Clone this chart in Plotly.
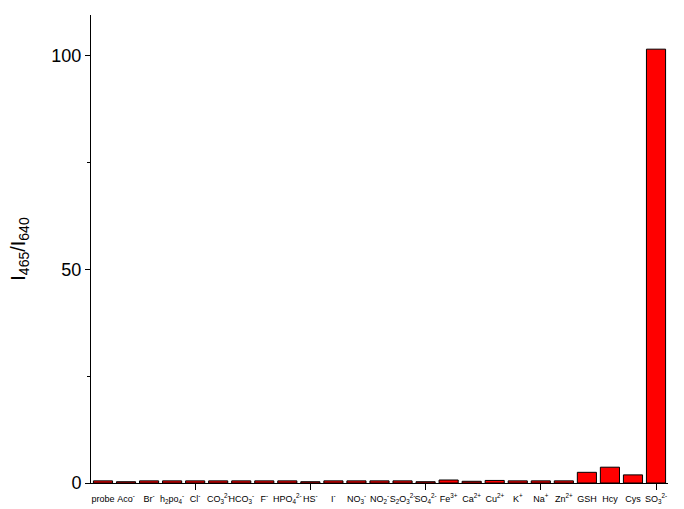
import plotly.graph_objects as go

labels = ["probe", "Aco<sup>-</sup>", "Br<sup>-</sup>", "h<sub>2</sub>po<sub>4</sub><sup>-</sup>",
          "Cl<sup>-</sup>", "CO<sub>3</sub><sup>2-</sup>", "HCO<sub>3</sub><sup>-</sup>", "F<sup>-</sup>",
          "HPO<sub>4</sub><sup>2-</sup>", "HS<sup>-</sup>", "I<sup>-</sup>", "NO<sub>3</sub><sup>-</sup>",
          "NO<sub>2</sub><sup>-</sup>", "S<sub>2</sub>O<sub>3</sub><sup>2-</sup>", "SO<sub>4</sub><sup>2-</sup>",
          "Fe<sup>3+</sup>", "Ca<sup>2+</sup>", "Cu<sup>2+</sup>", "K<sup>+</sup>", "Na<sup>+</sup>",
          "Zn<sup>2+</sup>", "GSH", "Hcy", "Cys", "SO<sub>3</sub><sup>2-</sup>"]
values = [0.5, 0.3, 0.5, 0.5, 0.5, 0.5, 0.5, 0.5, 0.5, 0.3, 0.5, 0.5, 0.5, 0.5, 0.3,
          0.7, 0.4, 0.6, 0.5, 0.5, 0.5, 2.5, 3.7, 1.9, 101.6]
xpos = list(range(len(labels)))
major_x = [4, 9, 14, 19, 24]

fig = go.Figure()
fig.add_trace(go.Bar(x=xpos, y=values, width=0.83,
                     marker=dict(color="#FF0000", line=dict(color="black", width=1)),
                     showlegend=False))
fig.add_trace(go.Scatter(x=[0], y=[0], xaxis="x2", mode="markers",
                         marker=dict(opacity=0), showlegend=False, hoverinfo="skip"))

font = "Arial, Liberation Sans, sans-serif"
fig.update_layout(
    width=684, height=509,
    margin=dict(l=91, r=16, t=15, b=26),
    paper_bgcolor="white", plot_bgcolor="white",
    font=dict(family=font, color="black"),
    xaxis=dict(range=[-0.52, 24.52], tickvals=xpos, ticktext=labels, ticks="",
               showline=True, linecolor="black", linewidth=1, showgrid=False, zeroline=False,
               tickfont=dict(size=9, family=font, color="black"), tickangle=0,
               ticklabelstandoff=7, automargin=False),
    xaxis2=dict(range=[-0.52, 24.52], overlaying="x", side="bottom", tickvals=major_x,
                showticklabels=False, ticks="outside", ticklen=6, tickcolor="black",
                showline=False, showgrid=False, zeroline=False, automargin=False),
    yaxis=dict(range=[0, 109.6], tickvals=[0, 50, 100], ticks="outside", ticklen=5,
               tickcolor="black", showline=True, linecolor="black", linewidth=1,
               showgrid=False, zeroline=False, tickfont=dict(size=18, family=font),
               automargin=False,
               minor=dict(tickvals=[25, 75], ticks="outside", ticklen=3, tickcolor="black"),
               title=dict(text="I<sub>465</sub>/I<sub>640</sub>", font=dict(size=20, family=font),
                          standoff=20)),
    bargap=0.17,
)
fig.write_html("out.html")
